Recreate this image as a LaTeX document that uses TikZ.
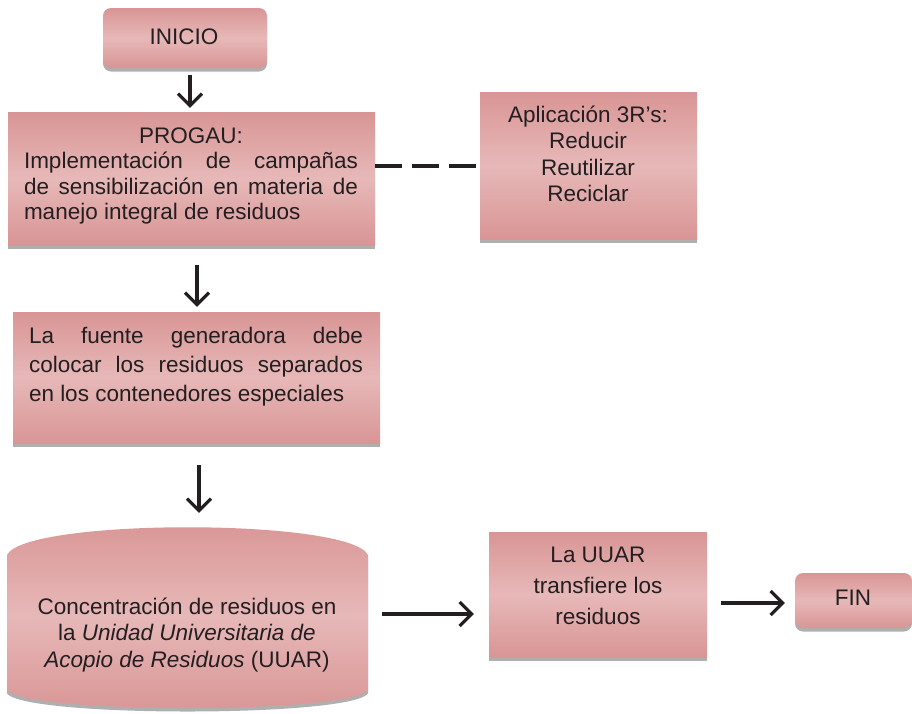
\documentclass[tikz,border=0pt]{standalone}
\usepackage{fontspec}
\setmainfont{Liberation Sans}
\usetikzlibrary{arrows.meta,shadows}
\hyphenpenalty=10000
\exhyphenpenalty=10000
\definecolor{pinkD}{RGB}{217,149,149}
\definecolor{pinkL}{RGB}{231,184,184}
\definecolor{shad}{RGB}{175,175,175}
\definecolor{txt}{RGB}{35,31,32}
\tikzset{
  boxfill/.style={top color=pinkD, bottom color=pinkD, middle color=pinkL},
  shd/.style={drop shadow={shadow xshift=0pt, shadow yshift=-3.5pt, fill=shad, opacity=1}},
  proc/.style={rectangle, boxfill, shd, inner sep=0pt, draw=none},
  term/.style={proc, rounded corners=8pt},
  lbl/.style={text=txt, inner sep=0pt, font=\fontsize{22.5}{#1}\selectfont},
  lbl/.default={25},
  arr/.style={draw=txt, line width=3.2pt, -{Straight Barb[length=12pt,width=24pt,line width=3.2pt]}},
  dsh/.style={draw=txt, line width=3.2pt, dash pattern=on 27pt off 10pt},
}
\begin{document}
\begin{tikzpicture}[x=1pt,y=-1pt]
\useasboundingbox (0,0) rectangle (912,713);

% boxes
\node[term, minimum width=164pt, minimum height=60pt] (ini) at (185,38) {};
\node[proc, minimum width=367pt, minimum height=133pt] (prog) at (191.5,178.5) {};
\node[proc, minimum width=217pt, minimum height=147pt] (r3) at (588.5,165.5) {};
\node[proc, minimum width=367pt, minimum height=131pt] (fue) at (196.5,377.5) {};
\node[inner sep=0pt, minimum width=361pt, minimum height=183pt] (cyl) at (187.5,618.5) {};
\path[boxfill, shd] (7,555) .. controls (25,518) and (350,518) .. (368,555)
   -- (368,690) .. controls (350,714) and (25,714) .. (7,690) -- cycle;
\node[proc, minimum width=218pt, minimum height=125pt] (uuar) at (598,594.5) {};
\node[term, minimum width=117pt, minimum height=55pt] (fin) at (853.5,600.5) {};

% texts
\node[lbl] (tini) at (184,37) {INICIO};
\node[lbl=25.5, text width=334pt, align=justify] (tprog) at (191,176)
  {{\centering PROGAU:\par}Implementación de campañas de sensibilización en materia de manejo integral de residuos};
\node[lbl=26.5, align=center] (tr3) at (588,154) {Aplicación 3R’s:\\Reducir\\Reutilizar\\Reciclar};
\node[lbl=29, text width=334pt, align=justify] (tfue) at (196,367)
  {La fuente generadora debe colocar los residuos separados en los contenedores especiales};
\node[lbl=26.5, align=center] (tcyl) at (187,635)
  {Concentración de residuos en\\la \textit{Unidad Universitaria de}\\\textit{Acopio de Residuos} (UUAR)};
\node[lbl=31, align=center] (tuuar) at (598,586) {La UUAR\\transfiere los\\residuos};
\node[lbl] (tfin) at (853,598) {FIN};

% connectors
\draw[arr] ([xshift=5pt,yshift=-7pt]ini.south) -- ([xshift=-1.5pt,yshift=4pt]prog.north);
\draw[dsh] ([yshift=12.5pt]prog.east) -- ([yshift=-0.5pt]r3.west);
\draw[arr] ([xshift=5.5pt,yshift=-20pt]prog.south) -- ([xshift=0.5pt,yshift=5pt]fue.north);
\draw[arr] ([xshift=2.5pt,yshift=-22pt]fue.south) -- ([xshift=11.5pt,yshift=14pt]cyl.north);
\draw[arr] ([xshift=14pt,yshift=4.5pt]cyl.east) -- ([xshift=-15pt,yshift=-19.5pt]uuar.west);
\draw[arr] ([xshift=14pt,yshift=-8.5pt]uuar.east) -- ([xshift=-10pt,yshift=-2.5pt]fin.west);
\end{tikzpicture}
\end{document}
